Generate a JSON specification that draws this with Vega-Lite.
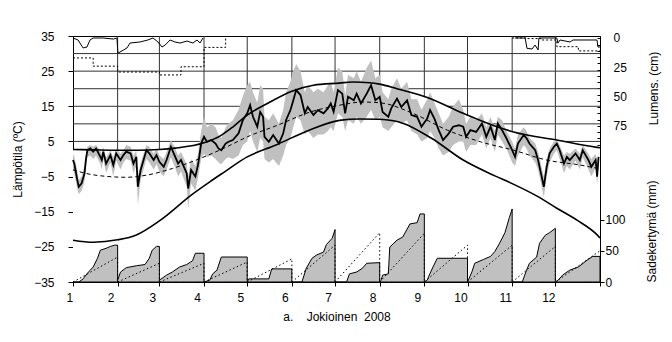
{
  "$schema": "https://vega.github.io/schema/vega-lite/v6.json",
  "width": 527,
  "height": 246,
  "autosize": {"type": "none"},
  "padding": {"left": 73, "top": 36, "right": 72, "bottom": 60},
  "background": "white",
  "config": {
    "view": {"stroke": "black", "strokeWidth": 1},
    "font": "Liberation Sans",
    "axis": {"labelFont": "Liberation Sans", "titleFont": "Liberation Sans", "labelFontSize": 12, "titleFontSize": 12, "titleFontWeight": "normal", "labelColor": "black", "titleColor": "black", "domainColor": "black", "tickColor": "black", "zindex": 1, "grid": false, "labelOverlap": false}
  },
  "datasets": {
    "hgrid": [{"t": 30}, {"t": 25}, {"t": 20}, {"t": 15}, {"t": 10}, {"t": 5}, {"t": 0}, {"t": -5}, {"t": -10}, {"t": -15}, {"t": -20}, {"t": -25}, {"t": -30}],
    "vgrid": [{"d": 32}, {"d": 61}, {"d": 92}, {"d": 122}, {"d": 153}, {"d": 183}, {"d": 214}, {"d": 245}, {"d": 275}, {"d": 306}, {"d": 336}],
    "cup": [{"d": 1, "v": 2.7}, {"d": 15, "v": 2.6}, {"d": 32, "v": 2.5}, {"d": 46, "v": 2.5}, {"d": 61, "v": 2.7}, {"d": 72, "v": 3.1}, {"d": 92, "v": 4.6}, {"d": 103, "v": 6.5}, {"d": 112, "v": 9.1}, {"d": 122, "v": 12.5}, {"d": 136, "v": 15.8}, {"d": 153, "v": 19.3}, {"d": 168, "v": 21}, {"d": 186, "v": 21.6}, {"d": 195, "v": 21.9}, {"d": 207, "v": 21.7}, {"d": 214, "v": 21.3}, {"d": 226, "v": 20}, {"d": 247, "v": 17.5}, {"d": 272, "v": 13}, {"d": 296, "v": 9.1}, {"d": 307, "v": 7.7}, {"d": 337, "v": 5.4}, {"d": 365, "v": 3.3}, {"d": 367, "v": 3.2}],
    "clow": [{"d": 1, "v": -23.1}, {"d": 15, "v": -23.7}, {"d": 32, "v": -23}, {"d": 45, "v": -21.6}, {"d": 61, "v": -17.6}, {"d": 84, "v": -10}, {"d": 96, "v": -6.5}, {"d": 105, "v": -4}, {"d": 122, "v": 0.6}, {"d": 142, "v": 4}, {"d": 165, "v": 8.2}, {"d": 186, "v": 11}, {"d": 200, "v": 11.4}, {"d": 214, "v": 11.3}, {"d": 230, "v": 10.2}, {"d": 250, "v": 5.9}, {"d": 272, "v": -0.3}, {"d": 294, "v": -4.8}, {"d": 306, "v": -7}, {"d": 323, "v": -10.5}, {"d": 337, "v": -14}, {"d": 351, "v": -17.4}, {"d": 365, "v": -21.6}, {"d": 367, "v": -22.5}],
    "cmean": [{"d": 1, "v": -3.1}, {"d": 15, "v": -4.5}, {"d": 38, "v": -5.2}, {"d": 52, "v": -4.6}, {"d": 70, "v": -2.7}, {"d": 92, "v": 0.6}, {"d": 108, "v": 3.5}, {"d": 122, "v": 6.3}, {"d": 143, "v": 9.6}, {"d": 166, "v": 13.4}, {"d": 186, "v": 15.3}, {"d": 202, "v": 16.2}, {"d": 214, "v": 16}, {"d": 237, "v": 13}, {"d": 261, "v": 8.2}, {"d": 284, "v": 4.9}, {"d": 307, "v": 2.5}, {"d": 330, "v": -0.3}, {"d": 353, "v": -1.7}, {"d": 367, "v": -2.8}],
    "temp": [
      {"d": 1, "t": -0.3, "lo": -3, "hi": 1.5}, {"d": 2, "t": -1.5, "lo": -4.5, "hi": 0.5}, {"d": 4, "t": -6, "lo": -8.5, "hi": -3.5}, {"d": 5, "t": -7.9, "lo": -10, "hi": -6}, {"d": 7, "t": -6.9, "lo": -9, "hi": -5}, {"d": 9, "t": -4.1, "lo": -6.5, "hi": -2}, {"d": 10, "t": 0, "lo": -2.5, "hi": 1.5}, {"d": 11, "t": 2.5, "lo": 0.5, "hi": 3.5}, {"d": 13, "t": 3, "lo": 1, "hi": 4}, {"d": 15, "t": 2.1, "lo": 0, "hi": 3.5}, {"d": 17, "t": 3, "lo": 1, "hi": 4}, {"d": 20, "t": 0.6, "lo": -1.5, "hi": 2.5}, {"d": 21, "t": -0.3, "lo": -3, "hi": 1.5}, {"d": 22, "t": 2.1, "lo": 0, "hi": 3.5}, {"d": 24, "t": -1.3, "lo": -4, "hi": 0.5}, {"d": 27, "t": 1.1, "lo": -1, "hi": 2.5}, {"d": 29, "t": -1.7, "lo": -5, "hi": 0.5}, {"d": 31, "t": 1.6, "lo": -0.5, "hi": 3}, {"d": 34, "t": -0.3, "lo": -3, "hi": 1.5}, {"d": 36, "t": 1.1, "lo": -1, "hi": 2.5}, {"d": 38, "t": 2.1, "lo": 0, "hi": 4}, {"d": 41, "t": 1.6, "lo": -0.5, "hi": 3.5}, {"d": 43, "t": -1.3, "lo": -4, "hi": 1}, {"d": 45, "t": 0.6, "lo": -2, "hi": 2.5}, {"d": 46, "t": -7.9, "lo": -13, "hi": -5}, {"d": 48, "t": -3.1, "lo": -6, "hi": -1}, {"d": 50, "t": -0.3, "lo": -3, "hi": 1.5}, {"d": 52, "t": 2.5, "lo": 0, "hi": 4}, {"d": 54, "t": 1.6, "lo": -1, "hi": 3.5}, {"d": 57, "t": -0.3, "lo": -3, "hi": 1.5}, {"d": 59, "t": 1.1, "lo": -1.5, "hi": 3}, {"d": 61, "t": -0.8, "lo": -3.5, "hi": 1}, {"d": 64, "t": -2.2, "lo": -5, "hi": 0}, {"d": 66, "t": -0.3, "lo": -3, "hi": 2}, {"d": 69, "t": 3.5, "lo": 0.5, "hi": 5.5}, {"d": 72, "t": 0.6, "lo": -2.5, "hi": 3}, {"d": 74, "t": -1.3, "lo": -5, "hi": 1}, {"d": 76, "t": -0.3, "lo": -3.5, "hi": 2}, {"d": 80, "t": -4.1, "lo": -8, "hi": -1.5}, {"d": 81, "t": -8.4, "lo": -14, "hi": -5}, {"d": 83, "t": -3.1, "lo": -7, "hi": 0}, {"d": 86, "t": -5, "lo": -9, "hi": -2}, {"d": 88, "t": -1.3, "lo": -5, "hi": 2}, {"d": 90, "t": 4.4, "lo": 0, "hi": 8}, {"d": 92, "t": 6.3, "lo": 1.5, "hi": 12}, {"d": 94, "t": 4.9, "lo": 0.5, "hi": 9}, {"d": 97, "t": 5.4, "lo": 1, "hi": 10}, {"d": 100, "t": 4.4, "lo": 0, "hi": 9}, {"d": 102, "t": 3, "lo": -1, "hi": 7}, {"d": 104, "t": 2.5, "lo": -1.5, "hi": 6}, {"d": 107, "t": 4.4, "lo": 0, "hi": 9}, {"d": 109, "t": 4.9, "lo": 0.5, "hi": 10}, {"d": 112, "t": 5.4, "lo": 0, "hi": 11}, {"d": 116, "t": 7.3, "lo": 1, "hi": 14}, {"d": 119, "t": 11.1, "lo": 4, "hi": 18}, {"d": 122, "t": 13, "lo": 5, "hi": 21}, {"d": 124, "t": 15.3, "lo": 8, "hi": 22}, {"d": 126, "t": 12, "lo": 5, "hi": 19}, {"d": 129, "t": 9.2, "lo": 2, "hi": 16}, {"d": 131, "t": 13.4, "lo": 6, "hi": 21}, {"d": 133, "t": 12, "lo": 5, "hi": 20}, {"d": 134, "t": 6.3, "lo": 0, "hi": 12}, {"d": 137, "t": 4.9, "lo": -1, "hi": 11}, {"d": 140, "t": 6.8, "lo": 0, "hi": 13}, {"d": 144, "t": 4.4, "lo": -2, "hi": 10}, {"d": 147, "t": 7.3, "lo": 1, "hi": 14}, {"d": 149, "t": 11.1, "lo": 4, "hi": 19}, {"d": 152, "t": 13.9, "lo": 6, "hi": 22}, {"d": 154, "t": 16.7, "lo": 9, "hi": 25}, {"d": 156, "t": 19.6, "lo": 12, "hi": 27}, {"d": 159, "t": 18.2, "lo": 11, "hi": 25}, {"d": 162, "t": 13, "lo": 7, "hi": 19}, {"d": 164, "t": 14.8, "lo": 8, "hi": 21}, {"d": 168, "t": 12.5, "lo": 6, "hi": 19}, {"d": 171, "t": 13.9, "lo": 7, "hi": 20}, {"d": 175, "t": 13, "lo": 7, "hi": 19}, {"d": 178, "t": 14.4, "lo": 8, "hi": 21}, {"d": 180, "t": 15.8, "lo": 9, "hi": 22}, {"d": 182, "t": 13.4, "lo": 8, "hi": 19}, {"d": 185, "t": 19.6, "lo": 13, "hi": 26}, {"d": 188, "t": 18.6, "lo": 12, "hi": 25}, {"d": 190, "t": 13, "lo": 8, "hi": 18}, {"d": 192, "t": 17.7, "lo": 11, "hi": 24}, {"d": 196, "t": 16.7, "lo": 10, "hi": 23}, {"d": 198, "t": 18.6, "lo": 12, "hi": 25}, {"d": 201, "t": 15.8, "lo": 10, "hi": 22}, {"d": 205, "t": 18.6, "lo": 12, "hi": 26}, {"d": 208, "t": 21, "lo": 14, "hi": 28}, {"d": 211, "t": 16.7, "lo": 11, "hi": 23}, {"d": 214, "t": 17.7, "lo": 12, "hi": 24}, {"d": 216, "t": 13.4, "lo": 9, "hi": 19}, {"d": 220, "t": 12, "lo": 8, "hi": 17}, {"d": 222, "t": 14.4, "lo": 9, "hi": 20}, {"d": 226, "t": 17.2, "lo": 11, "hi": 23}, {"d": 229, "t": 14.8, "lo": 10, "hi": 20}, {"d": 233, "t": 16.7, "lo": 11, "hi": 22}, {"d": 236, "t": 12.5, "lo": 8, "hi": 17}, {"d": 240, "t": 12, "lo": 7, "hi": 17}, {"d": 243, "t": 9.2, "lo": 5, "hi": 14}, {"d": 247, "t": 11.5, "lo": 6, "hi": 17}, {"d": 249, "t": 13.9, "lo": 8, "hi": 19}, {"d": 252, "t": 11.5, "lo": 6, "hi": 16}, {"d": 255, "t": 8.2, "lo": 3, "hi": 13}, {"d": 258, "t": 5.4, "lo": 1, "hi": 10}, {"d": 262, "t": 7.3, "lo": 2, "hi": 12}, {"d": 265, "t": 9.2, "lo": 4, "hi": 15}, {"d": 269, "t": 9.6, "lo": 5, "hi": 17}, {"d": 272, "t": 9.2, "lo": 5, "hi": 14}, {"d": 274, "t": 6.3, "lo": 2, "hi": 10}, {"d": 277, "t": 8.2, "lo": 4, "hi": 12}, {"d": 281, "t": 7.7, "lo": 4, "hi": 11}, {"d": 285, "t": 10.1, "lo": 7, "hi": 13}, {"d": 288, "t": 6.3, "lo": 3, "hi": 9}, {"d": 291, "t": 9.2, "lo": 6, "hi": 12}, {"d": 294, "t": 5.4, "lo": 2, "hi": 8}, {"d": 296, "t": 10.1, "lo": 7, "hi": 12}, {"d": 299, "t": 8.2, "lo": 5, "hi": 11}, {"d": 302, "t": 5.9, "lo": 3, "hi": 8}, {"d": 306, "t": 2.5, "lo": -1, "hi": 5}, {"d": 308, "t": 0.6, "lo": -2, "hi": 3}, {"d": 310, "t": 4.4, "lo": 1, "hi": 7}, {"d": 314, "t": 6.8, "lo": 4, "hi": 9}, {"d": 316, "t": 5.9, "lo": 3, "hi": 8}, {"d": 318, "t": 4.4, "lo": 1, "hi": 6}, {"d": 322, "t": 2.5, "lo": -1, "hi": 4.5}, {"d": 324, "t": -0.3, "lo": -3, "hi": 2}, {"d": 326, "t": -4.1, "lo": -7, "hi": -1.5}, {"d": 328, "t": -7.9, "lo": -11, "hi": -5}, {"d": 330, "t": -2.2, "lo": -5, "hi": 0}, {"d": 332, "t": 1.6, "lo": -1, "hi": 3}, {"d": 335, "t": 3.5, "lo": 1.5, "hi": 5}, {"d": 337, "t": 4.4, "lo": 2.5, "hi": 5.5}, {"d": 339, "t": 2.5, "lo": 0, "hi": 4}, {"d": 342, "t": -1.3, "lo": -4, "hi": 1}, {"d": 344, "t": 0.6, "lo": -2, "hi": 2}, {"d": 346, "t": -0.3, "lo": -3, "hi": 1.5}, {"d": 350, "t": 1.6, "lo": -0.5, "hi": 3}, {"d": 353, "t": -0.3, "lo": -3, "hi": 1.5}, {"d": 355, "t": 2.5, "lo": 0.5, "hi": 4}, {"d": 359, "t": -0.3, "lo": -3, "hi": 1.5}, {"d": 361, "t": -2.2, "lo": -5, "hi": 0}, {"d": 364, "t": -0.3, "lo": -2.5, "hi": 1.5}, {"d": 365, "t": -5, "lo": -7.5, "hi": -3}, {"d": 366, "t": 0.6, "lo": -1.5, "hi": 2}
    ],
    "snow": [
      {"d": 1, "s": 0, "g": 1}, {"d": 4.5, "s": 1.7, "g": 1}, {"d": 8, "s": 8.5, "g": 1}, {"d": 10.7, "s": 7.7, "g": 1}, {"d": 12.8, "s": 1.7, "g": 1}, {"d": 15, "s": 0, "g": 1}, {"d": 22, "s": 0, "g": 1}, {"d": 29, "s": 0.9, "g": 1}, {"d": 31.5, "s": 0, "g": 1}, {"d": 32.2, "s": 13, "g": 1}, {"d": 33.6, "s": 12, "g": 1}, {"d": 38.5, "s": 8.5, "g": 1}, {"d": 40.6, "s": 4.3, "g": 1}, {"d": 47.5, "s": 3.4, "g": 1}, {"d": 53, "s": 1.7, "g": 1}, {"d": 56.6, "s": 0, "g": 1}, {"d": 60, "s": 3.4, "g": 1}, {"d": 62.8, "s": 7.7, "g": 1}, {"d": 65, "s": 6, "g": 1}, {"d": 68.4, "s": 1.7, "g": 1}, {"d": 71.8, "s": 3.4, "g": 1}, {"d": 75.3, "s": 4.3, "g": 1}, {"d": 80.2, "s": 2.6, "g": 1}, {"d": 84.3, "s": 4.3, "g": 1}, {"d": 87.1, "s": 1.7, "g": 1}, {"d": 89.2, "s": 4.3, "g": 1}, {"d": 91.3, "s": 0, "g": 1},
      {"d": 308, "s": 0, "g": 2}, {"d": 315, "s": 0, "g": 2}, {"d": 316.3, "s": 8.8, "g": 2}, {"d": 319.8, "s": 9.4, "g": 2}, {"d": 321.9, "s": 6, "g": 2}, {"d": 324, "s": 10.2, "g": 2}, {"d": 324.6, "s": 0, "g": 2}, {"d": 337, "s": 0, "g": 2}, {"d": 337.8, "s": 4.3, "g": 2}, {"d": 339.2, "s": 1.7, "g": 2}, {"d": 346.2, "s": 3.4, "g": 2}, {"d": 348.3, "s": 1.7, "g": 2}, {"d": 358, "s": 1.7, "g": 2}, {"d": 364.9, "s": 1.7, "g": 2}, {"d": 365.6, "s": 7.7, "g": 2}, {"d": 367, "s": 7.7, "g": 2}
    ],
    "snowclim": [
      {"d": 1, "s": 17, "g": 1}, {"d": 15, "s": 24, "g": 1}, {"d": 32, "s": 29, "g": 1}, {"d": 61, "s": 31.5, "g": 1}, {"d": 76, "s": 24.5, "g": 1}, {"d": 92, "s": 8, "g": 1}, {"d": 107, "s": 0, "g": 1},
      {"d": 306, "s": 0, "g": 2}, {"d": 316, "s": 0.5, "g": 2}, {"d": 326, "s": 1.7, "g": 2}, {"d": 337, "s": 7.4, "g": 2}, {"d": 352, "s": 11, "g": 2}, {"d": 367, "s": 11, "g": 2}
    ],
    "prec": [
      {"d": 1, "p": 0, "m": 1}, {"d": 5, "p": 0, "m": 1}, {"d": 8, "p": 5, "m": 1}, {"d": 11, "p": 14, "m": 1}, {"d": 15, "p": 24, "m": 1}, {"d": 18, "p": 38, "m": 1}, {"d": 20, "p": 51, "m": 1}, {"d": 24, "p": 54, "m": 1}, {"d": 27, "p": 57, "m": 1}, {"d": 30, "p": 59, "m": 1}, {"d": 32, "p": 59, "m": 1},
      {"d": 32, "p": 3, "m": 2}, {"d": 34, "p": 16, "m": 2}, {"d": 38, "p": 23, "m": 2}, {"d": 45, "p": 26, "m": 2}, {"d": 51, "p": 28, "m": 2}, {"d": 54, "p": 38, "m": 2}, {"d": 56, "p": 51, "m": 2}, {"d": 59, "p": 57, "m": 2}, {"d": 61, "p": 57, "m": 2},
      {"d": 61, "p": 3, "m": 3}, {"d": 66, "p": 11, "m": 3}, {"d": 70, "p": 16, "m": 3}, {"d": 75, "p": 24, "m": 3}, {"d": 80, "p": 28, "m": 3}, {"d": 84, "p": 34, "m": 3}, {"d": 86, "p": 46, "m": 3}, {"d": 92, "p": 46, "m": 3},
      {"d": 92, "p": 0, "m": 4}, {"d": 96, "p": 3, "m": 4}, {"d": 98, "p": 13, "m": 4}, {"d": 101, "p": 19, "m": 4}, {"d": 104, "p": 40, "m": 4}, {"d": 122, "p": 40, "m": 4},
      {"d": 122, "p": 0, "m": 5}, {"d": 123, "p": 5, "m": 5}, {"d": 137, "p": 5, "m": 5}, {"d": 139, "p": 21, "m": 5}, {"d": 153, "p": 21, "m": 5},
      {"d": 153, "p": 0, "m": 6}, {"d": 160, "p": 0, "m": 6}, {"d": 163, "p": 22, "m": 6}, {"d": 167, "p": 38, "m": 6}, {"d": 170, "p": 43, "m": 6}, {"d": 175, "p": 48, "m": 6}, {"d": 177, "p": 60, "m": 6}, {"d": 181, "p": 70, "m": 6}, {"d": 183, "p": 84, "m": 6},
      {"d": 183, "p": 0, "m": 7}, {"d": 191, "p": 0, "m": 7}, {"d": 193, "p": 13, "m": 7}, {"d": 198, "p": 16, "m": 7}, {"d": 202, "p": 22, "m": 7}, {"d": 205, "p": 30, "m": 7}, {"d": 214, "p": 31, "m": 7},
      {"d": 214, "p": 0, "m": 8}, {"d": 215, "p": 3, "m": 8}, {"d": 216, "p": 11, "m": 8}, {"d": 220, "p": 13, "m": 8}, {"d": 221, "p": 56, "m": 8}, {"d": 226, "p": 67, "m": 8}, {"d": 230, "p": 72, "m": 8}, {"d": 235, "p": 93, "m": 8}, {"d": 240, "p": 95, "m": 8}, {"d": 242, "p": 109, "m": 8}, {"d": 245, "p": 109, "m": 8},
      {"d": 245, "p": 0, "m": 9}, {"d": 247, "p": 3, "m": 9}, {"d": 249, "p": 14, "m": 9}, {"d": 251, "p": 24, "m": 9}, {"d": 254, "p": 38, "m": 9}, {"d": 275, "p": 38, "m": 9},
      {"d": 275, "p": 0, "m": 10}, {"d": 278, "p": 16, "m": 10}, {"d": 280, "p": 30, "m": 10}, {"d": 286, "p": 36, "m": 10}, {"d": 291, "p": 41, "m": 10}, {"d": 294, "p": 49, "m": 10}, {"d": 297, "p": 61, "m": 10}, {"d": 301, "p": 79, "m": 10}, {"d": 304, "p": 103, "m": 10}, {"d": 306, "p": 117, "m": 10},
      {"d": 306, "p": 0, "m": 11}, {"d": 313, "p": 0, "m": 11}, {"d": 316, "p": 19, "m": 11}, {"d": 318, "p": 30, "m": 11}, {"d": 323, "p": 40, "m": 11}, {"d": 325, "p": 62, "m": 11}, {"d": 329, "p": 75, "m": 11}, {"d": 332, "p": 79, "m": 11}, {"d": 336, "p": 86, "m": 11},
      {"d": 336, "p": 0, "m": 12}, {"d": 338, "p": 3, "m": 12}, {"d": 341, "p": 11, "m": 12}, {"d": 346, "p": 19, "m": 12}, {"d": 352, "p": 24, "m": 12}, {"d": 358, "p": 35, "m": 12}, {"d": 362, "p": 41, "m": 12}, {"d": 367, "p": 41, "m": 12}
    ],
    "precclim": [
      {"d": 1, "p": 0, "m": 1}, {"d": 32, "p": 40, "m": 1}, {"d": 32, "p": 0, "m": 1},
      {"d": 32, "p": 0, "m": 2}, {"d": 61, "p": 30, "m": 2}, {"d": 61, "p": 0, "m": 2},
      {"d": 61, "p": 0, "m": 3}, {"d": 92, "p": 30, "m": 3}, {"d": 92, "p": 0, "m": 3},
      {"d": 92, "p": 0, "m": 4}, {"d": 122, "p": 32, "m": 4}, {"d": 122, "p": 0, "m": 4},
      {"d": 122, "p": 0, "m": 5}, {"d": 153, "p": 37, "m": 5}, {"d": 153, "p": 0, "m": 5},
      {"d": 153, "p": 0, "m": 6}, {"d": 183, "p": 59, "m": 6}, {"d": 183, "p": 0, "m": 6},
      {"d": 183, "p": 0, "m": 7}, {"d": 214, "p": 79, "m": 7}, {"d": 214, "p": 0, "m": 7},
      {"d": 214, "p": 0, "m": 8}, {"d": 245, "p": 78, "m": 8}, {"d": 245, "p": 0, "m": 8},
      {"d": 245, "p": 0, "m": 9}, {"d": 275, "p": 59, "m": 9}, {"d": 275, "p": 0, "m": 9},
      {"d": 275, "p": 0, "m": 10}, {"d": 306, "p": 59, "m": 10}, {"d": 306, "p": 0, "m": 10},
      {"d": 306, "p": 0, "m": 11}, {"d": 336, "p": 57, "m": 11}, {"d": 336, "p": 0, "m": 11},
      {"d": 336, "p": 0, "m": 12}, {"d": 367, "p": 50, "m": 12}
    ]
  },
  "layer": [
    {
      "layer": [
        {
          "data": {"name": "hgrid"},
          "mark": {"type": "rule", "color": "#333333", "strokeWidth": 1},
          "encoding": {
            "y": {"field": "t", "type": "quantitative", "scale": {"domain": [-35, 35], "nice": false, "zero": false},
              "axis": {"values": [-35, -25, -15, -5, 5, 15, 25, 35], "tickCount": 100, "format": "d", "title": "Lämpötila (ºC)", "tickSize": 5, "labelPadding": 14, "titlePadding": 9, "domainColor": "black", "labelOverlap": false}}
          }
        },
        {
          "data": {"name": "vgrid"},
          "mark": {"type": "rule", "color": "#333333", "strokeWidth": 1},
          "encoding": {
            "x": {"field": "d", "type": "quantitative", "scale": {"domain": [1, 367], "nice": false, "zero": false},
              "axis": {"values": [1, 32, 61, 92, 122, 153, 183, 214, 245, 275, 306, 336, 367], "tickCount": 100, "labelExpr": "datum.value > 366 ? '' : '' + (indexof([1,32,61,92,122,153,183,214,245,275,306,336], datum.value) + 1)", "labelOffset": -7, "tickSize": 4, "labelPadding": 6, "labelOverlap": false, "title": "a.\u00a0\u00a0\u00a0\u00a0Jokioinen\u00a0\u00a02008", "titlePadding": 8}}
          }
        },
        {
          "data": {"name": "cup"},
          "mark": {"type": "area", "fill": "white", "interpolate": "monotone"},
          "encoding": {"x": {"field": "d", "type": "quantitative"}, "y": {"field": "v", "type": "quantitative"}, "y2": {"datum": -35}}
        },
        {
          "data": {"name": "temp"},
          "mark": {"type": "area", "fill": "#c0c0c0"},
          "encoding": {"x": {"field": "d", "type": "quantitative"}, "y": {"field": "lo", "type": "quantitative"}, "y2": {"field": "hi"}}
        },
        {
          "data": {"name": "cmean"},
          "mark": {"type": "line", "color": "black", "strokeWidth": 1, "strokeDash": [4, 3], "interpolate": "monotone"},
          "encoding": {"x": {"field": "d", "type": "quantitative"}, "y": {"field": "v", "type": "quantitative"}}
        },
        {
          "data": {"name": "cup"},
          "mark": {"type": "line", "color": "black", "strokeWidth": 1.6, "interpolate": "monotone"},
          "encoding": {"x": {"field": "d", "type": "quantitative"}, "y": {"field": "v", "type": "quantitative"}}
        },
        {
          "data": {"name": "clow"},
          "mark": {"type": "line", "color": "black", "strokeWidth": 1.6, "interpolate": "monotone"},
          "encoding": {"x": {"field": "d", "type": "quantitative"}, "y": {"field": "v", "type": "quantitative"}}
        },
        {
          "data": {"name": "temp"},
          "mark": {"type": "line", "color": "black", "strokeWidth": 1.8},
          "encoding": {"x": {"field": "d", "type": "quantitative"}, "y": {"field": "t", "type": "quantitative"}}
        }
      ]
    },
    {
      "layer": [
        {
          "data": {"name": "snowclim"},
          "mark": {"type": "line", "color": "black", "strokeWidth": 1, "strokeDash": [2, 2], "interpolate": "step-after"},
          "encoding": {
            "x": {"field": "d", "type": "quantitative"},
            "y": {"field": "s", "type": "quantitative", "scale": {"domain": [-1.7, 208], "nice": false, "zero": false, "reverse": true},
              "axis": {"orient": "right", "values": [0, 25, 50, 75], "tickCount": 100, "format": "d", "ticks": false, "domain": false, "labelPadding": 13, "labelOverlap": false, "title": "Lumens. (cm)", "titleAngle": 270, "titleX": 53, "titleY": 52, "titleAlign": "center", "titleBaseline": "middle"}},
            "detail": {"field": "g"}
          }
        },
        {
          "data": {"name": "snow"},
          "mark": {"type": "line", "color": "black", "strokeWidth": 1},
          "encoding": {"x": {"field": "d", "type": "quantitative"}, "y": {"field": "s", "type": "quantitative"}, "detail": {"field": "g"}}
        }
      ]
    },
    {
      "layer": [
        {
          "data": {"name": "prec"},
          "mark": {"type": "area", "fill": "#c0c0c0", "stroke": "black", "strokeWidth": 1},
          "encoding": {
            "x": {"field": "d", "type": "quantitative"},
            "y": {"field": "p", "type": "quantitative", "stack": null, "scale": {"domain": [0, 394], "nice": false},
              "axis": {"orient": "right", "values": [0, 10, 20, 30, 40, 50, 60, 70, 80, 90, 100, 110, 120, 130, 140, 150, 160, 170, 180, 190, 200, 210, 220, 230, 240, 250, 260, 270, 280, 290, 300, 310, 320, 330, 340, 350, 360, 370, 380, 390],
                "tickCount": 100,
                "format": "d",
                "labelExpr": "datum.value == 0 || datum.value == 50 || datum.value == 100 ? datum.label : ''",
                "labelOverlap": false,
                "tickSize": {"condition": {"test": "datum.value == 50 || datum.value == 100 || datum.value == 0", "value": 4}, "value": -3},
                "labelPadding": 1, "title": "Sadekertymä (mm)", "titleAngle": 270, "titleX": 51, "titleY": 195, "titleAlign": "center", "titleBaseline": "middle"}},
            "detail": {"field": "m"}
          }
        },
        {
          "data": {"name": "precclim"},
          "mark": {"type": "line", "color": "black", "strokeWidth": 1, "strokeDash": [1.5, 2.5]},
          "encoding": {"x": {"field": "d", "type": "quantitative"}, "y": {"field": "p", "type": "quantitative"}, "detail": {"field": "m"}}
        }
      ]
    }
  ],
  "resolve": {"scale": {"y": "independent"}, "axis": {"y": "independent"}}
}
